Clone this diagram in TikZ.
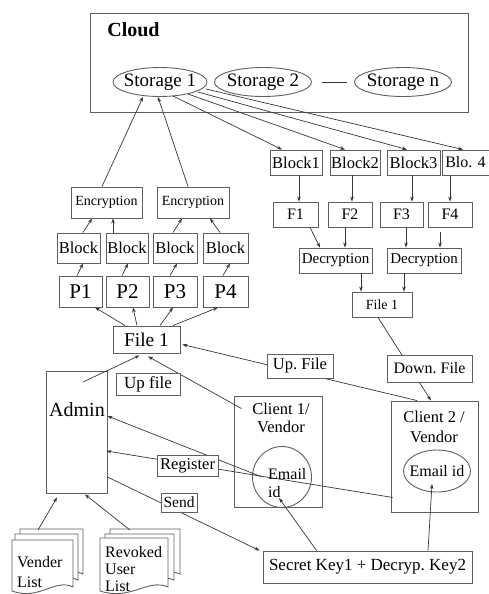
\documentclass[tikz,border=0pt]{standalone}
\usepackage{fontspec}
\setmainfont{Liberation Serif}
\usetikzlibrary{shapes.geometric,arrows.meta,calc}
\newcommand\fsz[1]{\fontsize{#1}{#1}\selectfont}
\definecolor{bc}{RGB}{95,95,95}
\definecolor{lc}{RGB}{55,55,55}
\begin{document}
\begin{tikzpicture}[x=1pt,y=-1pt,
  box/.style={draw=bc,line width=0.9pt,fill=white,inner sep=0pt,align=center},
  oval/.style={ellipse,draw=bc,line width=0.9pt,inner sep=0pt},
  arr/.style={draw=lc,line width=0.7pt,-{Stealth[length=5pt,width=3.6pt]}},
  ln/.style={draw=lc,line width=0.7pt},
  sheet/.style={draw=bc,fill=white,line width=0.9pt},
  sz/.style 2 args={minimum width=#1pt,minimum height=#2pt},
  txt/.style={inner sep=0pt,align=center}]
\useasboundingbox (0,0) rectangle (489,594);
\fill[white] (0,0) rectangle (489,594);

% ---------------- cloud
\node[box,sz={378}{99}] (cloud) at (279,62.5) {};
\node[txt,font=\fsz{20}\bfseries] (cloudt) at (133.5,30) {Cloud};
\node[oval,sz={94}{29}] (st1) at (160,82) {};
\node[txt,font=\fsz{19}] (st1t) at (160,82) {Storage 1};
\node[oval,sz={97}{29}] (st2) at (263,82) {};
\node[txt,font=\fsz{19}] (st2t) at (263,82) {Storage 2};
\node[oval,sz={97}{29}] (stn) at (403,82) {};
\node[txt,font=\fsz{19}] (stnt) at (403,82) {Storage n};
\draw[ln] ($(st2.east)+(10,0)$) -- ($(stn.west)+(-7,0)$);

% ---------------- upload side
\node[box,sz={71}{31},font=\fsz{14}] (enc1) at (106.5,202.5) {Encryption};
\node[box,sz={72}{31},font=\fsz{14}] (enc2) at (193,202.5) {Encryption};
\node[box,sz={43}{30},font=\fsz{16.5}] (blk1) at (78.5,248) {Block};
\node[box,sz={42}{30},font=\fsz{16.5}] (blk2) at (127,248) {Block};
\node[box,sz={44}{30},font=\fsz{16.5}] (blk3) at (175,248) {Block};
\node[box,sz={45}{30},font=\fsz{16.5}] (blk4) at (225.5,248) {Block};
\node[box,sz={43}{31},font=\fsz{21}] (p1) at (80.5,291.5) {P1};
\node[box,sz={43}{31},font=\fsz{21}] (p2) at (127.5,291.5) {P2};
\node[box,sz={44}{31},font=\fsz{21}] (p3) at (175,291.5) {P3};
\node[box,sz={45}{31},font=\fsz{21}] (p4) at (225.5,291.5) {P4};
\node[box,sz={67}{27},font=\fsz{19.5}] (file1) at (146.5,339.5) {File 1};
\node[box,sz={61}{122}] (admin) at (76.5,432) {};
\node[txt,font=\fsz{20}] (admint) at (77,410) {Admin};

% ---------------- download side
\node[box,sz={52}{25},font=\fsz{16.5}] (B1) at (296,162.5) {Block1};
\node[box,sz={50}{25},font=\fsz{16.5}] (B2) at (355,162.5) {Block2};
\node[box,sz={53}{25},font=\fsz{16.5}] (B3) at (413.5,162.5) {Block3};
\node[box,sz={47}{25},font=\fsz{16}] (B4) at (465.5,162.5) {Blo. 4};
\node[box,sz={45}{25},font=\fsz{16}] (F1) at (295.5,214.5) {F1};
\node[box,sz={44}{25},font=\fsz{16}] (F2) at (350,214.5) {F2};
\node[box,sz={43}{25},font=\fsz{16}] (F3) at (401.5,214.5) {F3};
\node[box,sz={44}{25},font=\fsz{16}] (F4) at (450,214.5) {F4};
\node[box,sz={73}{25},font=\fsz{15}] (dec1) at (335.5,260.5) {Decryption};
\node[box,sz={74}{25},font=\fsz{15}] (dec2) at (424,260.5) {Decryption};
\node[box,sz={60}{25},font=\fsz{14}] (file1r) at (382,304.5) {File 1};

% ---------------- clients
\node[box,sz={88}{111}] (c1) at (278,451.5) {};
\node[txt,font=\fontsize{16.5}{18}\selectfont] (c1t) at (281,418) {Client 1/\\Vendor};
\node[oval,sz={59}{61}] (e1) at (282,477) {};
\node[box,sz={87}{111}] (c2) at (434.5,456.5) {};
\node[txt,font=\fontsize{16.5}{20}\selectfont] (c2t) at (434,427) {Client 2 /\\Vendor};
\node[oval,sz={67}{42},font=\fsz{16}] (e2) at (437,471) {};
\node[txt,font=\fsz{16}] (e2t) at (437,471) {Email id};
\node[box,sz={209}{32},font=\fsz{17}] (secret) at (367.5,567) {Secret Key1 + Decryp.\ Key2};

% ---------------- document stacks
\begin{scope}
\clip (0,0) rectangle (489,594);
\filldraw[sheet] (20,578) -- (20,529) -- (83,529) -- (83,574) .. controls (64,565) and (48,588) .. (20,578);
\filldraw[sheet] (15,584) -- (15,534) -- (78,534) -- (78,580) .. controls (59,571) and (43,594) .. (15,584);
\filldraw[sheet] (12,591) -- (12,540) -- (73,540) -- (73,587) .. controls (55,578) and (39,601) .. (12,591);
\filldraw[sheet] (110,578) -- (110,529) -- (180,529) -- (180,574) .. controls (159,565) and (141,588) .. (110,578);
\filldraw[sheet] (105,584) -- (105,534) -- (174,534) -- (174,580) .. controls (153,571) and (136,594) .. (105,584);
\filldraw[sheet] (100,591) -- (100,538) -- (168,538) -- (168,587) .. controls (148,578) and (131,601) .. (100,591);
\node[txt,align=left,anchor=west,font=\fontsize{16}{20}\selectfont] (vend) at (17,572.5) {Vender\\List};
\node[txt,align=left,anchor=west,font=\fontsize{16}{17}\selectfont] (revk) at (105,569.5) {Revoked\\User\\List};
\end{scope}
\coordinate (vtop) at (38,530);
\coordinate (rtop) at (130,530);

% ---------------- connectors
\draw[arr] ($(enc1.north)+(-4.5,0)$) -- ($(st1.south)+(-17,0)$);
\draw[arr] ($(enc2.north)+(-5,0)$) -- ($(st1.south)+(-2,0)$);
\draw[arr] ($(st1.center)+(13,14)$) -- ($(B1.north)+(-14,0)$);
\draw[arr] ($(st1.center)+(28,12)$) -- ($(B2.north)+(-10,0)$);
\draw[arr] ($(st1.center)+(38,10)$) -- ($(B3.north)+(-6.5,0)$);
\draw[arr] ($(st1.center)+(46,7)$) -- ($(B4.north)+(-2.5,0)$);

\draw[arr] ($(p1.north)+(-3.5,0)$) -- ($(blk1.south)+(4.5,0)$);
\draw[arr] ($(p2.north)+(-5.5,0)$) -- ($(blk2.south)+(1,0)$);
\draw[arr] ($(p3.north)+(-5,0)$) -- ($(blk3.south)+(2,0)$);
\draw[arr] ($(p4.north)+(-2.5,0)$) -- ($(blk4.south)+(4.5,0)$);
\draw[arr] ($(blk1.north)+(4.5,0)$) -- ($(enc1.south)+(-14.5,0)$);
\draw[arr] ($(blk2.north)+(-14,0)$) -- ($(enc1.south)+(6.5,0)$);
\draw[arr] ($(blk3.north)+(-2,0)$) -- ($(enc2.south)+(-11,0)$);
\draw[arr] ($(blk4.north)+(-5.5,0)$) -- ($(enc2.south)+(17,0)$);
\draw[arr] ($(file1.north)+(-21.5,0)$) -- ($(p1.south)+(14.5,0)$);
\draw[arr] ($(file1.north)+(-9.5,0)$) -- ($(p2.south)+(5.5,0)$);
\draw[arr] ($(file1.north)+(13.5,0)$) -- ($(p3.south)+(-2,0)$);
\draw[arr] ($(file1.north)+(26.5,0)$) -- ($(p4.south)+(-7.5,0)$);

\draw[arr] ($(B1.south)+(3,0)$) -- ($(F1.north)+(3.5,0)$);
\draw[arr] ($(B2.south)+(-3,0)$) -- ($(F2.north)+(2,0)$);
\draw[arr] ($(B3.south)+(-1.5,0)$) -- ($(F3.north)+(10.5,0)$);
\draw[arr] ($(B4.south)+(-15.5,0)$) -- ($(F4.north)+(0,0)$);
\draw[arr] ($(F1.south)+(14.5,0)$) -- ($(dec1.north)+(-15.5,0)$);
\draw[arr] ($(F2.south)+(-5,0)$) -- ($(dec1.north)+(9.5,0)$);
\draw[arr] ($(F3.south)+(4.5,0)$) -- ($(dec2.north)+(-18,0)$);
\draw[arr] ($(F4.south)+(-10,5)$) -- ($(dec2.north)+(16,0)$);
\draw[arr] ($(dec1.south)+(25.5,0)$) -- ($(file1r.north)+(-21,0)$);
\draw[arr] ($(dec2.south)+(-20,0)$) -- ($(file1r.north)+(22,0)$);

\draw[arr] ($(file1r.south)+(-4,0)$) -- ($(c2.north)+(-3.5,0)$);
\draw[arr] ($(c2.north)+(-17.5,0)$) -- ($(file1.east)+(2,5)$);
\draw[arr] ($(c1.north west)+(8,13)$) -- ($(file1.south)+(1.5,3)$);
\draw[arr] ($(admin.center)+(6.5,-50)$) -- ($(file1.south)+(-7,2)$);

\draw[arr] ($(e1.west)+(10,0)$) -- ($(admin.east)+(0,-16)$);
\draw[arr] ($(c2.south west)+(2,-15)$) -- ($(admin.east)+(-1,19)$);
\draw[arr] ($(admin.east)+(0,45)$) -- ($(secret.north west)+(-3,0)$);
\draw[arr] ($(secret.north west)+(54,0)$) -- ($(e1.center)+(-3,21)$);
\draw[arr] ($(secret.north)+(60.5,0)$) -- ($(e2.center)+(-5,13)$);
\draw[arr] (vtop) -- ($(admin.south)+(-19.5,4)$);
\draw[arr] (rtop) -- ($(admin.south)+(8.5,1)$);

\node[txt,align=left,anchor=west,font=\fontsize{16}{17.5}\selectfont] (e1t) at (268,483) {Email\\id};

% ---------------- labels on connectors
\node[box,sz={64}{22},font=\fsz{17}] (upf) at (148,384) {Up file};
\node[box,sz={61}{21},font=\fsz{16.5}] (reg) at (187.5,465.5) {Register};
\node[box,sz={36}{19},font=\fsz{15.5}] (send) at (179,502.5) {Send};
\node[box,sz={66}{24},font=\fsz{16.5}] (upF) at (300,366) {Up.\ File};
\node[box,sz={85}{27},font=\fsz{16}] (downF) at (429.5,368.5) {Down.\ File};
\end{tikzpicture}
\end{document}
